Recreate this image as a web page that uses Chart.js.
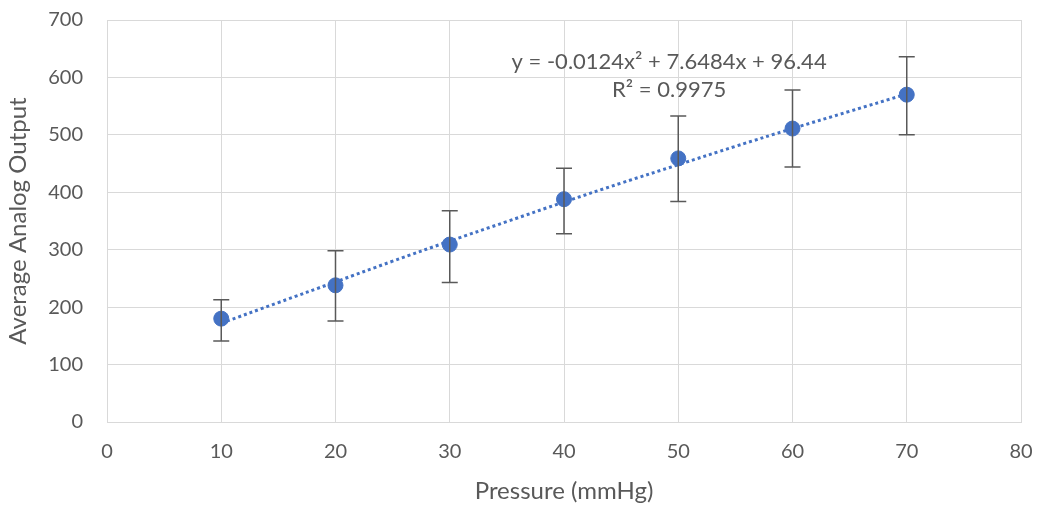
<!DOCTYPE html>
<html>
<head>
<meta charset="utf-8">
<script src="https://cdn.jsdelivr.net/npm/chart.js@4.4.0/dist/chart.umd.min.js"></script>
<style>
  html, body { margin: 0; padding: 0; background: #fff; }
  #wrap { width: 1038px; height: 510px; }
</style>
</head>
<body>
<div id="wrap"><canvas id="chart" width="1038" height="510"></canvas></div>
<script>
// Measured pressure points and averaged analog output
const pressure = [10, 20, 30, 40, 50, 60, 70];
const avgOutput = [180, 238, 309, 388, 459, 511, 570];
const errLow = [141, 176, 243, 328, 384, 444, 500];
const errHigh = [213, 298, 368, 442, 533, 578, 636];

// Polynomial trendline as drawn on the chart
const trendX = [10, 15, 20, 25, 30, 35, 40, 45, 50, 55, 60, 65, 70];
const trendY = [172, 208, 244, 280, 315, 349, 383, 416, 448, 480, 511, 541, 571];

const xTicks = [0, 10, 20, 30, 40, 50, 60, 70, 80];
const yTicks = [0, 100, 200, 300, 400, 500, 600, 700];

const equationText = "y = -0.0124x² + 7.6484x + 96.44";
const r2Text = "R² = 0.9975";

const blue = "#4472C4";
const grey = "#595959";
const font = "Lato, 'Open Sans', sans-serif";

// Error bars drawn through the chart's scales
const errorBars = {
  id: "errorBars",
  afterDatasetsDraw(chart) {
    const { ctx, scales } = chart;
    ctx.save();
    ctx.strokeStyle = grey;
    ctx.lineWidth = 1.5;
    pressure.forEach((p, i) => {
      const x = scales.x.getPixelForValue(p);
      const yl = scales.y.getPixelForValue(errLow[i]);
      const yh = scales.y.getPixelForValue(errHigh[i]);
      ctx.beginPath();
      ctx.moveTo(x, yl); ctx.lineTo(x, yh);
      ctx.moveTo(x - 8, yl); ctx.lineTo(x + 8, yl);
      ctx.moveTo(x - 8, yh); ctx.lineTo(x + 8, yh);
      ctx.stroke();
    });
    ctx.restore();
  }
};

// Trendline equation label
const trendLabel = {
  id: "trendLabel",
  afterDraw(chart) {
    const { ctx, scales } = chart;
    const cx = scales.x.getPixelForValue(49.2);
    ctx.save();
    ctx.fillStyle = grey;
    ctx.font = "22px " + font;
    ctx.textAlign = "center";
    ctx.textBaseline = "middle";
    ctx.fillText(equationText, cx, scales.y.getPixelForValue(627));
    ctx.fillText(r2Text, cx, scales.y.getPixelForValue(578));
    ctx.restore();
  }
};

new Chart(document.getElementById("chart"), {
  type: "scatter",
  data: {
    datasets: [
      {
        label: "Trend",
        data: trendX.map((x, i) => ({ x: x, y: trendY[i] })),
        showLine: true,
        borderColor: blue,
        borderWidth: 3,
        borderDash: [3, 3],
        pointRadius: 0,
        tension: 0.4,
        order: 2
      },
      {
        label: "Average Analog Output",
        data: pressure.map((x, i) => ({ x: x, y: avgOutput[i] })),
        backgroundColor: blue,
        borderColor: blue,
        pointRadius: 7.5,
        order: 1
      }
    ]
  },
  options: {
    responsive: false,
    animation: false,
    layout: { padding: { left: 0, right: 17, top: 20, bottom: 0 } },
    plugins: { legend: { display: false }, tooltip: { enabled: false } },
    scales: {
      x: {
        type: "linear",
        min: 0, max: 80,
        afterBuildTicks: s => { s.ticks = xTicks.map(v => ({ value: v })); },
        afterFit: s => { s.height = 88; s.paddingLeft = 0; s.paddingRight = 0; },
        grid: { color: "#d9d9d9", lineWidth: 1, drawTicks: false },
        border: { color: "#d9d9d9" },
        ticks: { color: grey, font: { family: font, size: 20 }, padding: 18 },
        title: { display: true, text: "Pressure (mmHg)", color: grey, font: { family: font, size: 24 }, padding: { top: 6 } }
      },
      y: {
        min: 0, max: 700,
        afterBuildTicks: s => { s.ticks = yTicks.map(v => ({ value: v })); },
        afterFit: s => { s.width = 107; s.paddingTop = 0; s.paddingBottom = 0; },
        grid: { color: "#d9d9d9", lineWidth: 1, drawTicks: false },
        border: { color: "#d9d9d9" },
        ticks: { color: grey, font: { family: font, size: 20 }, padding: 24 },
        title: { display: true, text: "Average Analog Output", color: grey, font: { family: font, size: 24 }, padding: { bottom: 2 } }
      }
    }
  },
  plugins: [errorBars, trendLabel]
});
</script>
</body>
</html>
